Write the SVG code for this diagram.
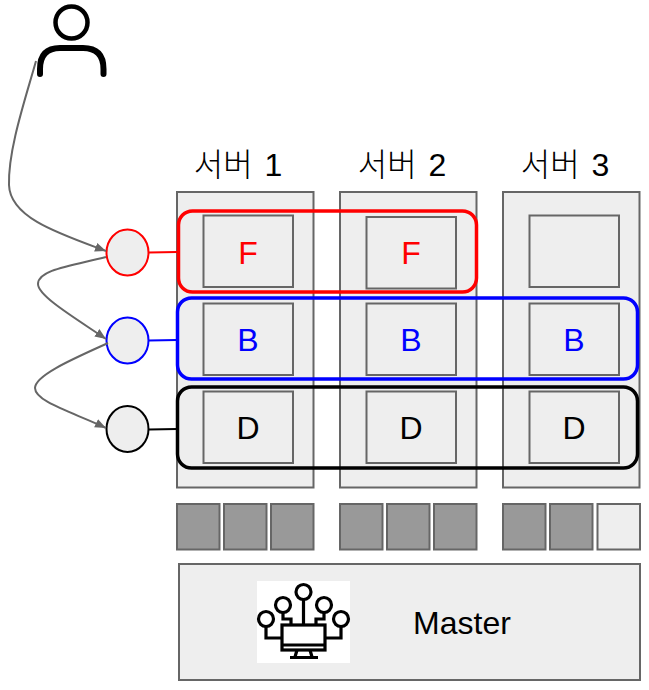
<svg xmlns="http://www.w3.org/2000/svg" width="649" height="690" viewBox="0 0 649 690">
<style>
.box{fill:#eeeeee;stroke:#666666;stroke-width:2}
.dark{fill:#999999;stroke:#666666;stroke-width:2}
.group{fill:none;stroke-width:3.500}
.t{font-family:"Liberation Sans","Noto Sans CJK KR",sans-serif;font-size:32px;text-anchor:middle}
.h{font-family:"Liberation Sans","Noto Sans CJK KR",sans-serif;font-size:32px;word-spacing:3px;text-anchor:middle;font-weight:300;fill:#000}
.c{fill:none;stroke:#666666;stroke-width:2}
.ic{fill:none;stroke:#000;stroke-width:3.200}
</style>
<defs>
<marker id="a" markerUnits="userSpaceOnUse" markerWidth="12" markerHeight="10" refX="11" refY="4.500" orient="auto"><path d="M0 0L11 4.500L0 9Z" fill="#666666"/></marker>
</defs>
<g id="user" fill="none" stroke="#000">
<circle cx="71.500" cy="22.500" r="16" stroke-width="4.500"/>
<path d="M40 74V69Q40 48 60 48H83Q103.500 48 103.500 69V74" stroke-width="6" stroke-linecap="round"/>
</g>
<g id="server1"><rect class="box" x="177" y="192" width="136.500" height="295.500"/><text class="h" x="238" y="176">서버 1</text></g>
<g id="server2"><rect class="box" x="340" y="192" width="136.500" height="295.500"/><text class="h" x="402" y="176">서버 2</text></g>
<g id="server3"><rect class="box" x="503" y="192" width="136.500" height="295.500"/><text class="h" x="565" y="176">서버 3</text></g>
<g id="f1"><rect class="box" x="203.500" y="215.500" width="89.500" height="71.500"/><text class="t" x="248" y="264" fill="#ff0000">F</text></g>
<g id="f2"><rect class="box" x="366.500" y="217" width="89.500" height="71.500"/><text class="t" x="411" y="264" fill="#ff0000">F</text></g>
<g id="f3"><rect class="box" x="529.500" y="215.500" width="89.500" height="71.500"/></g>
<g id="b1"><rect class="box" x="203.500" y="303.500" width="89.500" height="71.500"/><text class="t" x="248" y="351" fill="#0000ff">B</text></g>
<g id="b2"><rect class="box" x="366.500" y="303.500" width="89.500" height="71.500"/><text class="t" x="411" y="351" fill="#0000ff">B</text></g>
<g id="b3"><rect class="box" x="529.500" y="303.500" width="89.500" height="71.500"/><text class="t" x="574" y="351" fill="#0000ff">B</text></g>
<g id="d1"><rect class="box" x="203.500" y="391.500" width="89.500" height="71.500"/><text class="t" x="248" y="439" fill="#000">D</text></g>
<g id="d2"><rect class="box" x="366.500" y="391.500" width="89.500" height="71.500"/><text class="t" x="411" y="439" fill="#000">D</text></g>
<g id="d3"><rect class="box" x="529.500" y="391.500" width="89.500" height="71.500"/><text class="t" x="574" y="439" fill="#000">D</text></g>
<g id="group-f"><rect class="group" x="178.500" y="211" width="298" height="81" rx="14" stroke="#ff0000"/></g>
<g id="group-b"><rect class="group" x="177.500" y="298" width="460" height="81" rx="14" stroke="#0000ff"/></g>
<g id="group-d"><rect class="group" x="177.500" y="387" width="460" height="81" rx="14" stroke="#000000"/></g>
<g id="slots">
<rect class="dark" x="177" y="504" width="42.500" height="45.500"/>
<rect class="dark" x="224" y="504" width="42.500" height="45.500"/>
<rect class="dark" x="271" y="504" width="42.500" height="45.500"/>
<rect class="dark" x="340" y="504" width="42.500" height="45.500"/>
<rect class="dark" x="387" y="504" width="42.500" height="45.500"/>
<rect class="dark" x="434" y="504" width="42.500" height="45.500"/>
<rect class="dark" x="503" y="504" width="42.500" height="45.500"/>
<rect class="dark" x="550" y="504" width="42.500" height="45.500"/>
<rect class="box" x="597.500" y="504" width="42.500" height="45.500"/>
</g>
<g id="master">
<rect class="box" x="179" y="564" width="461" height="116"/>
<rect x="257" y="581" width="93" height="82" fill="#ffffff"/>
<g class="ic">
<circle cx="303.500" cy="592" r="7.500"/><circle cx="283" cy="605" r="7.500"/><circle cx="324" cy="605" r="7.500"/><circle cx="266" cy="619" r="7.500"/><circle cx="341" cy="619" r="7.500"/>
<rect x="282" y="625" width="43" height="25"/>
<path d="M303.500 599.500V625M283 612.500V619H291V625M324 612.500V619H316V625M266 626.500V638H282M341 626.500V638H325M282 645H325M297 650L295 657M310 650L312 657M290 657.500H318"/>
</g>
<text class="t" x="462" y="634" fill="#000">Master</text>
</g>
<g id="circle-f"><ellipse cx="127.500" cy="252.500" rx="21" ry="23" fill="#eeeeee" stroke="#ff0000" stroke-width="2"/></g>
<g id="circle-b"><ellipse cx="127.500" cy="340.500" rx="21" ry="23" fill="#eeeeee" stroke="#0000ff" stroke-width="2"/></g>
<g id="circle-d"><ellipse cx="127.500" cy="429" rx="21" ry="23" fill="#eeeeee" stroke="#000000" stroke-width="2"/></g>
<g id="connectors">
<path d="M149 252.500L177 252" fill="none" stroke="#ff0000" stroke-width="2"/>
<path d="M149 340.500L177 340" fill="none" stroke="#0000ff" stroke-width="2"/>
<path d="M149 429.500L177 429" fill="none" stroke="#000000" stroke-width="2"/>
<path class="c" marker-end="url(#a)" d="M36 61C25 100 8 150 9 185C10 218 60 234 106 251"/>
<path class="c" marker-end="url(#a)" d="M106 257C70 266 38 270 38 284C38 296 75 318 106 339"/>
<path class="c" marker-end="url(#a)" d="M108 343C75 358 35 375 35 388C35 402 75 413 106 428"/>
</g>
</svg>
